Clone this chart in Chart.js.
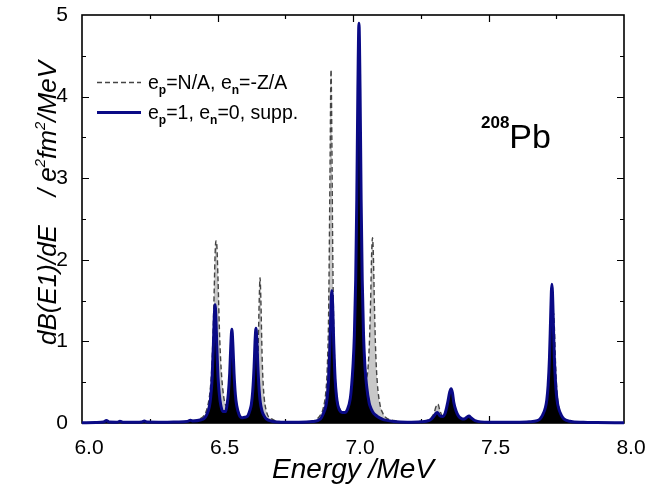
<!DOCTYPE html>
<html>
<head>
<meta charset="utf-8">
<title>dB(E1)/dE 208Pb</title>
<script src="https://cdn.jsdelivr.net/npm/chart.js@4.4.1/dist/chart.umd.min.js"></script>
<style>
  html, body { margin: 0; padding: 0; background: #fff; }
  #wrap { width: 648px; height: 487px; }
</style>
</head>
<body>
<div id="wrap"><canvas id="strength" width="648" height="487"></canvas></div>
<script>
// energy grid (MeV), denser around the peaks
var energy = [
  6.00, 6.05, 6.08, 6.09, 6.10, 6.13, 6.14, 6.15, 6.20, 6.22, 6.23, 6.24, 6.30, 6.35, 6.39, 6.40, 6.41, 6.44,
  6.45, 6.46, 6.47, 6.475, 6.48, 6.485, 6.488, 6.491, 6.494, 6.497, 6.502, 6.507, 6.512, 6.52, 6.53, 6.535,
  6.54, 6.545, 6.549, 6.553, 6.557, 6.561, 6.566, 6.571, 6.58, 6.59, 6.60, 6.61, 6.62, 6.625, 6.63, 6.635,
  6.639, 6.642, 6.645, 6.649, 6.654, 6.657, 6.66, 6.665, 6.67, 6.68, 6.70, 6.75, 6.80, 6.85,
  6.88, 6.89, 6.90, 6.905, 6.91, 6.915, 6.919, 6.922, 6.925, 6.929, 6.934, 6.939, 6.944, 6.95, 6.96, 6.97,
  6.98, 6.99, 6.995, 7.00, 7.005, 7.01, 7.014, 7.018, 7.022, 7.026, 7.03, 7.034, 7.039, 7.044, 7.05, 7.06,
  7.065, 7.069, 7.072, 7.075, 7.079, 7.084, 7.09, 7.10, 7.11, 7.12, 7.15, 7.20, 7.25, 7.28, 7.29, 7.30,
  7.305, 7.31, 7.314, 7.32, 7.33, 7.34, 7.35, 7.357, 7.362, 7.367, 7.372, 7.38, 7.39, 7.40, 7.41, 7.42,
  7.428, 7.435, 7.45, 7.50, 7.60, 7.65, 7.68, 7.69, 7.70, 7.71, 7.715, 7.72, 7.725, 7.729, 7.732, 7.734,
  7.736, 7.738, 7.739, 7.740, 7.743, 7.748, 7.753, 7.758, 7.768, 7.778, 7.80, 7.85, 7.90, 8.00
];

// e_p=1, e_n=0, supp.
var strengthSupp = [
  0.004, 0.006, 0.012, 0.030, 0.012, 0.010, 0.022, 0.010, 0.008, 0.012, 0.025, 0.012, 0.010, 0.013, 0.020, 0.035, 0.025, 0.04,
  0.055, 0.10, 0.20, 0.32, 0.54, 0.97, 1.29, 1.45, 1.30, 0.99, 0.56, 0.345, 0.22, 0.14, 0.14, 0.22,
  0.36, 0.61, 0.94, 1.15, 0.94, 0.61, 0.345, 0.21, 0.10, 0.065, 0.07, 0.08, 0.16, 0.23, 0.39, 0.69,
  1.03, 1.16, 1.03, 0.69, 0.39, 0.28, 0.21, 0.14, 0.10, 0.05, 0.022, 0.010, 0.010, 0.018,
  0.05, 0.11, 0.21, 0.32, 0.54, 0.97, 1.44, 1.62, 1.44, 0.97, 0.54, 0.33, 0.22, 0.16, 0.13, 0.13,
  0.17, 0.30, 0.46, 0.70, 1.07, 1.76, 2.74, 4.09, 4.90, 4.09, 2.74, 1.76, 1.07, 0.70, 0.46, 0.24,
  0.19, 0.16, 0.14, 0.125, 0.11, 0.095, 0.08, 0.06, 0.045, 0.035, 0.018, 0.010, 0.015, 0.03, 0.05, 0.09,
  0.115, 0.13, 0.12, 0.09, 0.08, 0.12, 0.26, 0.38, 0.42, 0.37, 0.25, 0.15, 0.08, 0.055, 0.05, 0.07,
  0.085, 0.065, 0.03, 0.010, 0.010, 0.015, 0.03, 0.05, 0.10, 0.19, 0.28, 0.46, 0.80, 1.26, 1.61, 1.70,
  1.61, 1.39, 1.26, 1.13, 0.80, 0.46, 0.28, 0.19, 0.10, 0.05, 0.022, 0.008, 0.005, 0.003
];

// e_p=N/A, e_n=-Z/A
var strengthNA = [
  0.004, 0.006, 0.012, 0.028, 0.012, 0.010, 0.020, 0.010, 0.008, 0.012, 0.022, 0.012, 0.010, 0.014, 0.022, 0.035, 0.03, 0.06,
  0.09, 0.16, 0.32, 0.48, 0.75, 1.25, 1.65, 2.05, 2.23, 2.20, 1.75, 1.15, 0.75, 0.40, 0.22, 0.21,
  0.22, 0.29, 0.40, 0.46, 0.40, 0.27, 0.17, 0.11, 0.07, 0.06, 0.06, 0.065, 0.08, 0.10, 0.12, 0.17,
  0.23, 0.32, 0.45, 0.77, 1.51, 1.78, 1.51, 0.77, 0.40, 0.15, 0.05, 0.012, 0.010, 0.02,
  0.10, 0.18, 0.39, 0.67, 1.33, 3.00, 4.33, 3.46, 2.17, 1.15, 0.60, 0.36, 0.24, 0.18, 0.12, 0.105,
  0.14, 0.21, 0.27, 0.36, 0.55, 0.90, 1.40, 2.10, 2.50, 2.10, 1.40, 0.96, 0.65, 0.57, 0.56, 0.94,
  1.50, 2.10, 2.27, 2.08, 1.45, 0.85, 0.48, 0.22, 0.12, 0.07, 0.03, 0.012, 0.018, 0.04, 0.07, 0.13,
  0.19, 0.225, 0.23, 0.16, 0.09, 0.10, 0.20, 0.28, 0.31, 0.27, 0.18, 0.11, 0.07, 0.055, 0.05, 0.07,
  0.09, 0.065, 0.03, 0.010, 0.010, 0.012, 0.02, 0.035, 0.05, 0.09, 0.125, 0.19, 0.30, 0.47, 0.675, 0.86,
  1.08, 1.27, 1.33, 1.35, 1.18, 0.675, 0.37, 0.22, 0.10, 0.05, 0.02, 0.008, 0.005, 0.003
];

var xTicks = [6.0, 6.5, 7.0, 7.5, 8.0];
var yTicks = [0, 1, 2, 3, 4, 5];

var NAVY = '#0a0a86';
var FONT = '"Liberation Sans", Arial, sans-serif';

function toPoints(values) {
  var pts = [];
  for (var i = 0; i < energy.length; i++) {
    pts.push({ x: energy[i], y: values[i] });
  }
  return pts;
}

// draws a row of text pieces left to right, each with its own font and vertical shift
function drawRuns(ctx, x, y, runs) {
  for (var i = 0; i < runs.length; i++) {
    ctx.font = runs[i].font;
    ctx.fillText(runs[i].t, x, y + (runs[i].dy || 0));
    x += ctx.measureText(runs[i].t).width;
  }
  return x;
}

function runsWidth(ctx, runs) {
  var w = 0;
  for (var i = 0; i < runs.length; i++) {
    ctx.font = runs[i].font;
    w += ctx.measureText(runs[i].t).width;
  }
  return w;
}

// frame with inward ticks on all four sides
var frameTicks = {
  id: 'frameTicks',
  beforeDatasetsDraw: function (chart) {
    var ctx = chart.ctx, a = chart.chartArea;
    var xs = chart.scales.x, ys = chart.scales.y;
    ctx.save();
    ctx.strokeStyle = '#000';
    ctx.lineWidth = 1.2;
    ctx.beginPath();
    for (var k = 1; k < 8; k++) {
      var px = Math.round(xs.getPixelForValue(6 + k * 0.25)) + 0.5;
      var len = (k % 2 === 0) ? 7 : 4;
      ctx.moveTo(px, a.bottom); ctx.lineTo(px, a.bottom - len);
      ctx.moveTo(px, a.top); ctx.lineTo(px, a.top + len);
    }
    for (var j = 1; j < 10; j++) {
      var py = Math.round(ys.getPixelForValue(j * 0.5)) + 0.5;
      var l2 = (j % 2 === 0) ? 7 : 4;
      ctx.moveTo(a.left, py); ctx.lineTo(a.left + l2, py);
      ctx.moveTo(a.right, py); ctx.lineTo(a.right - l2, py);
    }
    ctx.stroke();
    ctx.lineWidth = 1.6;
    ctx.strokeRect(a.left, a.top, a.right - a.left, a.bottom - a.top);
    ctx.restore();
  },
  afterDraw: function (chart) {
    var ctx = chart.ctx;
    ctx.save();
    ctx.fillStyle = '#000';
    ctx.textBaseline = 'alphabetic';
    ctx.textAlign = 'left';

    // y axis title
    var it = 'italic 26px ' + FONT, sup = 'italic 15px ' + FONT;
    var title = [
      { t: 'dB(E1)/dE', font: it },
      { t: '    / e', font: it },
      { t: '2', font: sup, dy: -11 },
      { t: 'fm', font: it },
      { t: '2', font: sup, dy: -11 },
      { t: '/MeV', font: it }
    ];
    ctx.translate(56, 203);
    ctx.rotate(-Math.PI / 2);
    drawRuns(ctx, -runsWidth(ctx, title) / 2, 0, title);
    ctx.setTransform(1, 0, 0, 1, 0, 0);

    // legend
    ctx.lineWidth = 1.4;
    ctx.strokeStyle = '#444';
    ctx.setLineDash([5, 3]);
    ctx.beginPath(); ctx.moveTo(97, 82.5); ctx.lineTo(141, 82.5); ctx.stroke();
    ctx.setLineDash([]);
    ctx.lineWidth = 3;
    ctx.strokeStyle = NAVY;
    ctx.beginPath(); ctx.moveTo(97, 112.5); ctx.lineTo(141, 112.5); ctx.stroke();

    var tf = '19.5px ' + FONT, sf = 'bold 12px ' + FONT;
    drawRuns(ctx, 148, 89, [
      { t: 'e', font: tf }, { t: 'p', font: sf, dy: 5 }, { t: '=N/A, e', font: tf },
      { t: 'n', font: sf, dy: 5 }, { t: '=-Z/A', font: tf }
    ]);
    drawRuns(ctx, 148, 119, [
      { t: 'e', font: tf }, { t: 'p', font: sf, dy: 5 }, { t: '=1, e', font: tf },
      { t: 'n', font: sf, dy: 5 }, { t: '=0, supp.', font: tf }
    ]);

    // nucleus label
    drawRuns(ctx, 481, 148, [
      { t: '208', font: 'bold 17px ' + FONT, dy: -20 },
      { t: 'Pb', font: '34px ' + FONT }
    ]);
    ctx.restore();
  }
};

var ctx = document.getElementById('strength');

var data = {
  datasets: [
    {
      label: 'e_p=1, e_n=0, supp.',
      data: toPoints(strengthSupp),
      borderColor: NAVY,
      backgroundColor: '#000',
      borderWidth: 3,
      fill: 'origin',
      pointRadius: 0,
      cubicInterpolationMode: 'monotone',
      clip: 4
    },
    {
      label: 'e_p=N/A, e_n=-Z/A',
      data: toPoints(strengthNA),
      borderColor: '#444',
      backgroundColor: '#c8c8c8',
      borderWidth: 1.4,
      borderDash: [5, 3],
      fill: 'origin',
      pointRadius: 0,
      cubicInterpolationMode: 'monotone',
      clip: 4
    }
  ]
};

var chart = new Chart(ctx, {
  type: 'line',
  data: data,
  plugins: [frameTicks],
  options: {
    responsive: false,
    animation: false,
    devicePixelRatio: 1,
    layout: { padding: { top: 15, right: 24, left: 0, bottom: 0 } },
    plugins: { legend: { display: false }, tooltip: { enabled: false } },
    scales: {
      x: {
        type: 'linear',
        min: 6,
        max: 8,
        grid: { display: false },
        border: { display: false },
        afterBuildTicks: function (scale) {
          scale.ticks = xTicks.map(function (v) { return { value: v }; });
        },
        afterFit: function (scale) {
          scale.height = 64;
          scale.paddingLeft = 0;
          scale.paddingRight = 0;
        },
        ticks: {
          color: '#000',
          font: { family: FONT, size: 21 },
          padding: 5,
          labelOffset: 7,
          maxRotation: 0,
          callback: function (v) { return v.toFixed(1); }
        },
        title: {
          display: true,
          text: 'Energy /MeV',
          color: '#000',
          font: { family: FONT, size: 28, style: 'italic' },
          padding: { top: 1, bottom: 0 }
        }
      },
      y: {
        min: 0,
        max: 5,
        grid: { display: false },
        border: { display: false },
        afterBuildTicks: function (scale) {
          scale.ticks = yTicks.map(function (v) { return { value: v }; });
        },
        afterFit: function (scale) {
          scale.width = 82;
          scale.paddingTop = 0;
          scale.paddingBottom = 0;
        },
        ticks: {
          color: '#000',
          font: { family: FONT, size: 21 },
          padding: 6
        }
      }
    }
  }
});
</script>
</body>
</html>
